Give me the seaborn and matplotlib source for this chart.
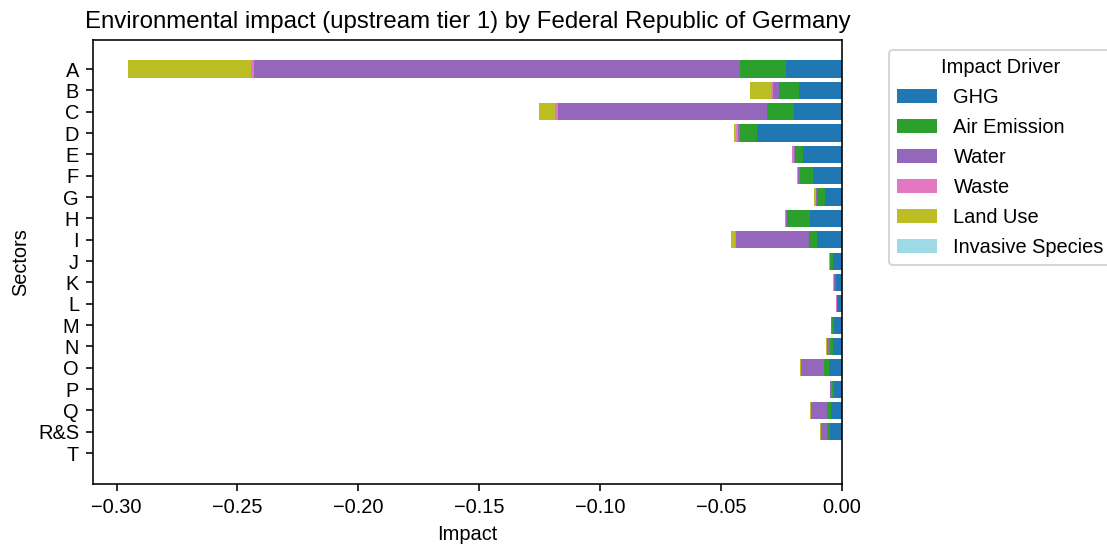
import matplotlib
matplotlib.use("Agg")
import matplotlib.pyplot as plt
from matplotlib.patches import Patch
import numpy as np
import pandas as pd
import seaborn as sns

plt.rcParams["font.family"] = ["Liberation Sans", "DejaVu Sans"]
plt.rcParams["font.size"] = 10

sectors = ["A", "B", "C", "D", "E", "F", "G", "H", "I", "J",
           "K", "L", "M", "N", "O", "P", "Q", "R&S", "T"]

drivers = ["GHG", "Air Emission", "Water", "Waste", "Land Use", "Invasive Species"]
colors = ["#1f77b4", "#2ca02c", "#9467bd", "#e377c2", "#bcbd22", "#9edae5"]

ghg = [-0.0230, -0.0177, -0.0199, -0.0350, -0.0161, -0.0119, -0.0071, -0.0131, -0.0102, -0.0037,
       -0.0025, -0.0020, -0.0034, -0.0038, -0.0055, -0.0033, -0.0044, -0.0050, 0.0]
air_emission = [-0.0191, -0.0082, -0.0112, -0.0073, -0.0032, -0.0056, -0.0031, -0.0096, -0.0036, -0.0012,
                -0.0005, -0.0001, -0.0009, -0.0010, -0.0019, -0.0010, -0.0016, -0.0010, 0.0]
water = [-0.2011, -0.0026, -0.0863, -0.0009, -0.0004, -0.0005, -0.0006, -0.0006, -0.0301, -0.0001,
         -0.0002, -0.0001, -0.0001, -0.0013, -0.0094, -0.0005, -0.0067, -0.0025, 0.0]
waste = [-0.0011, -0.0008, -0.0011, -0.0008, -0.0010, -0.0002, -0.0001, -0.0001, -0.0002, -0.0001,
         -0.0001, -0.0003, 0.0, -0.0001, -0.0002, -0.0001, -0.0001, -0.0001, 0.0]
land_use = [-0.0511, -0.0088, -0.0067, -0.0008, -0.0001, -0.0004, -0.0006, 0.0, -0.0017, -0.0001,
            -0.0003, 0.0, -0.0001, -0.0004, -0.0003, 0.0, -0.0003, -0.0003, 0.0]
invasive_species = [0.0] * len(sectors)

x_ticks = [-0.30, -0.25, -0.20, -0.15, -0.10, -0.05, 0.0]

df = pd.DataFrame({
    "Sectors": sectors,
    "GHG": ghg,
    "Air Emission": air_emission,
    "Water": water,
    "Waste": waste,
    "Land Use": land_use,
    "Invasive Species": invasive_species,
})

# running totals so each driver is stacked leftwards from zero
cum = df[drivers].cumsum(axis=1)

fig = plt.figure(figsize=(1107 / 144, 545 / 144), dpi=144)
ax = fig.add_axes([93 / 1107, 1 - 484 / 545, (842 - 93) / 1107, (484 - 40) / 545])

# draw the widest cumulative bar first, then overlay the shorter ones
for drv, col in reversed(list(zip(drivers, colors))):
    sns.barplot(x=cum[drv], y=df["Sectors"], color=col, orient="h",
                width=0.8, ax=ax, linewidth=0, saturation=1)

ax.set_xlim(-0.30975, 0.0)
ax.set_ylim(len(sectors) - 1 + 1.45, -1.36)
ax.set_xticks(x_ticks)
ax.set_xticklabels([f"{v:.2f}".replace("-", "\u2212") for v in x_ticks])
ax.set_xlabel("Impact")
ax.set_ylabel("Sectors")
ax.set_title("Environmental impact (upstream tier 1) by Federal Republic of Germany", fontsize=12)

handles = [Patch(facecolor=c, label=d) for d, c in zip(drivers, colors)]
ax.legend(handles=handles, title="Impact Driver", bbox_to_anchor=(1.05, 1), loc="upper left",
          handleheight=0.75, handlelength=2.0, labelspacing=0.55)

fig.savefig("out.png", dpi=144)
